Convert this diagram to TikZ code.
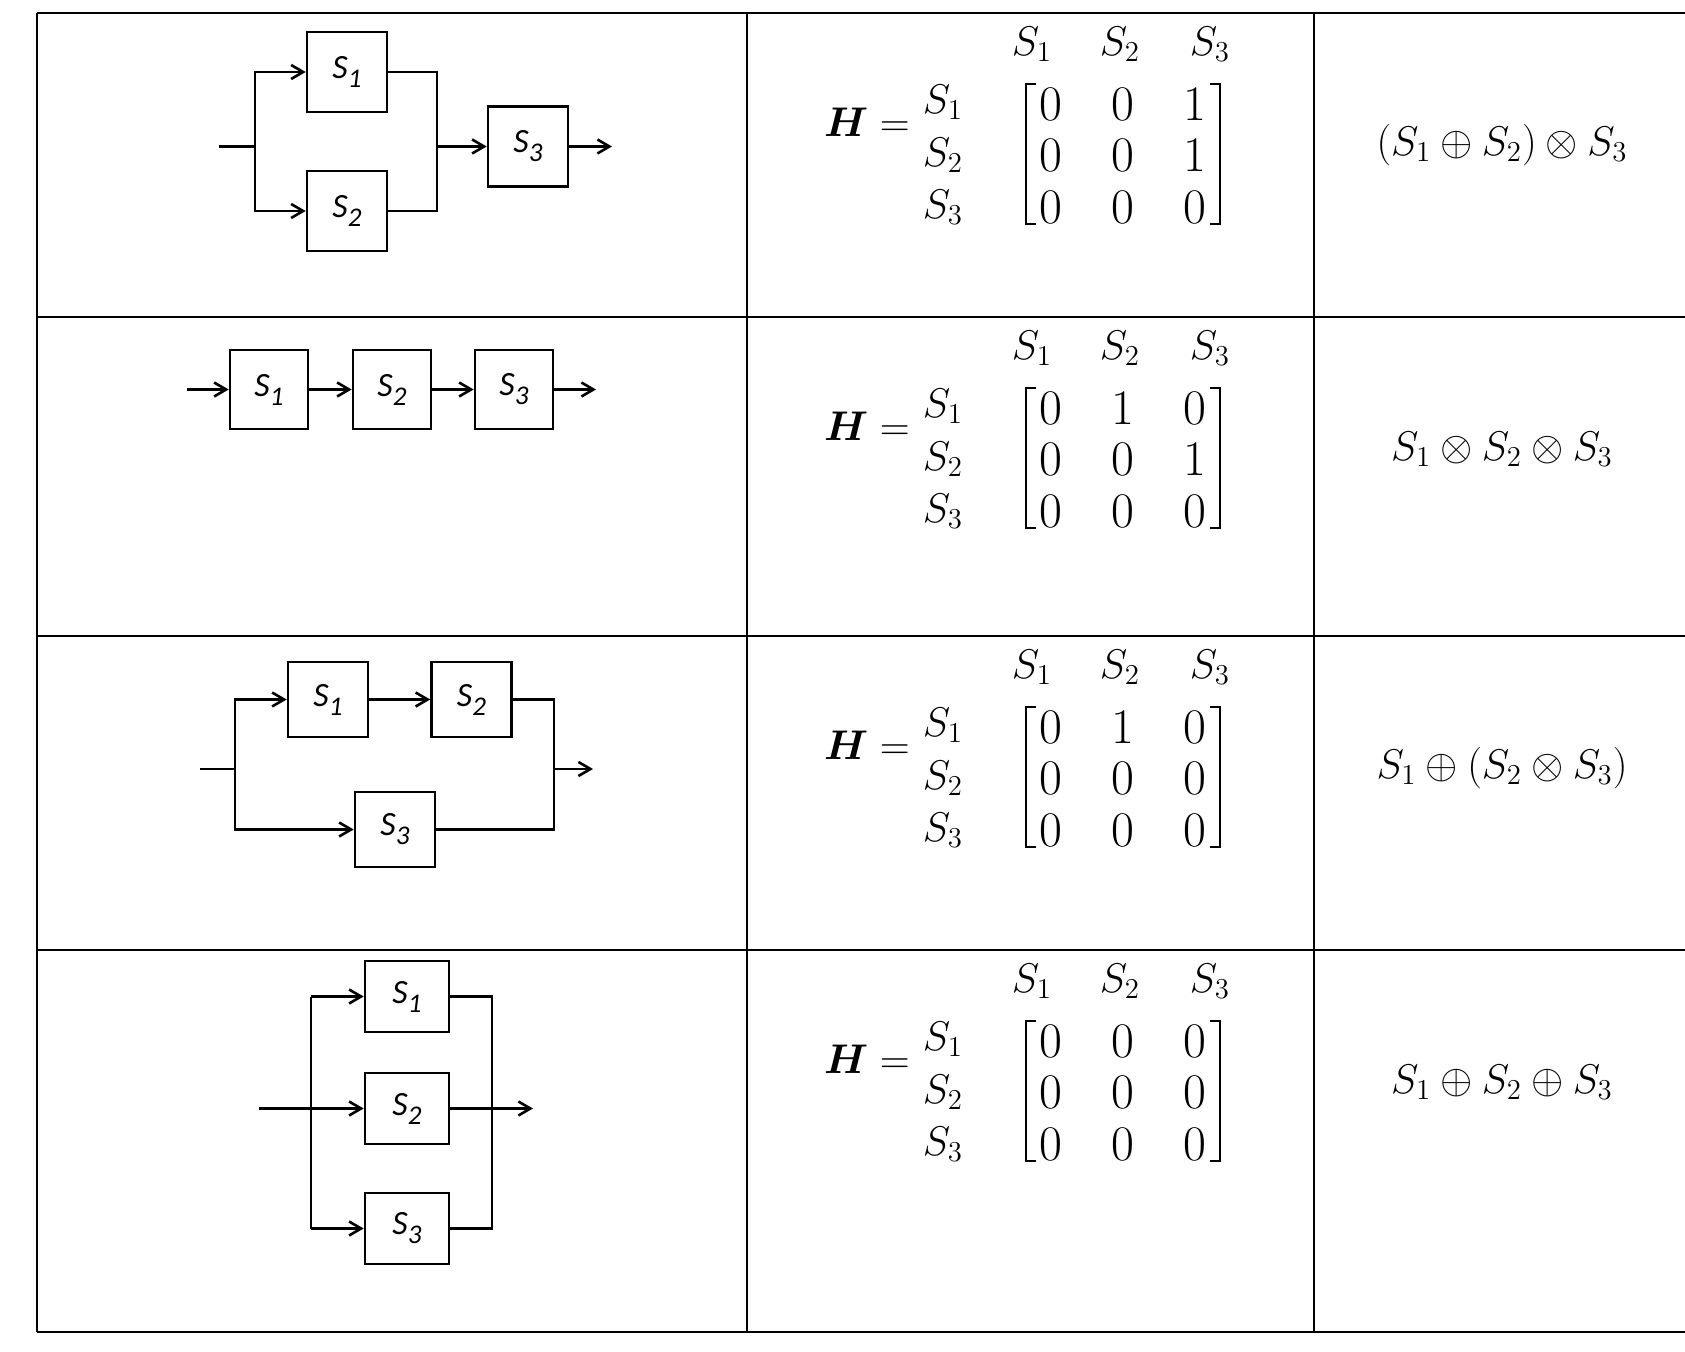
\documentclass[tikz,border=0pt]{standalone}
\usepackage{amsmath}
\usepackage{fontspec}
\usetikzlibrary{arrows.meta}
\newfontfamily\carlito{Carlito}
\newcommand\lbl[1]{S\raisebox{-4.5pt}{\fontsize{13.5}{13.5}\selectfont #1}}
\newcommand\hmat[4]{%
  \node[mtx, anchor=east] (H#1) at (910,#2+109) {$\boldsymbol{H} =$};
  \foreach \q/\xx in {1/1032,2/1120,3/1210}
    \node[mtx] (c#1\q) at (\xx,#2+31) {$S_\q$};
  \foreach \q/\yy in {1/89,2/142,3/194}
    \node[mtx] (l#1\q) at (943,#2+\yy) {$S_\q$};
  \foreach \rv [count=\i] in {#3} {
    \foreach \v [count=\j] in \rv {
      \node[mtx, font=\fontsize{23}{27}\selectfont] (e#1\i\j) at ({1051+72*(\j-1)},{#2+91+51.5*(\i-1)}) {$\v$};
    }
  }
  \draw[brk] (1036,#2+71) -- (1026,#2+71) -- (1026,#2+211) -- (1036,#2+211);
  \draw[brk] (1210,#2+71) -- (1220,#2+71) -- (1220,#2+211) -- (1210,#2+211);
  \node[mtx] (x#1) at (1502,#2+132) {$#4$};
}
\begin{document}
\begin{tikzpicture}[x=0.5pt,y=-0.5pt,
  grid/.style={line width=1pt},
  thingrid/.style={line width=0.75pt},
  blk/.style={draw, line width=1.3pt, inner sep=0pt,
    font=\carlito\itshape\fontsize{17}{17}\selectfont},
  wire/.style={line width=1.3pt},
  arr/.style={wire, -{Straight Barb[length=6pt,width=7pt,line width=1.3pt]}},
  mtx/.style={inner sep=0pt, font=\fontsize{21}{25}\selectfont},
  brk/.style={line width=1.2pt}
]
\useasboundingbox (0,0) rectangle (1685,1352);
\fill[white] (0,0) rectangle (1685,1352);

% table
\draw[grid] (37,13) -- (1685,13);
\draw[grid] (37,317) -- (1685,317);
\draw[grid] (37,636) -- (1685,636);
\draw[grid] (37,950) -- (1685,950);
\draw[grid] (37,1332) -- (1685,1332);
\draw[grid] (37,13) -- (37,1332);
\draw[thingrid] (747,13) -- (747,1332);
\draw[thingrid] (1314,13) -- (1314,1332);

% ---------- row 1
\node[blk, minimum width=40pt, minimum height=40pt] (a1) at (347,72) {\lbl{1}};
\node[blk, minimum width=40pt, minimum height=40pt] (a2) at (347,211) {\lbl{2}};
\node[blk, minimum width=40pt, minimum height=40pt] (a3) at (528,146.5) {\lbl{3}};
\coordinate (ain) at (219,146.5);
\coordinate (asp) at (255,146.5);
\coordinate (ajn) at (437,146.5);
\coordinate (aout) at (612,146.5);
\draw[wire] (ain) -- (asp);
\draw[arr] (asp) |- (a1.west);
\draw[arr] (asp) |- (a2.west);
\draw[wire] (a1.east) -| (ajn);
\draw[wire] (a2.east) -| (ajn);
\draw[arr] (ajn) -- (a3.west);
\draw[arr] (a3.east) -- (aout);

% ---------- row 2
\node[blk, minimum width=39pt, minimum height=39.5pt] (b1) at (269,389.5) {\lbl{1}};
\node[blk, minimum width=39pt, minimum height=39.5pt] (b2) at (392,389.5) {\lbl{2}};
\node[blk, minimum width=39pt, minimum height=39.5pt] (b3) at (514,389.5) {\lbl{3}};
\coordinate (bin) at (187,389.5);
\coordinate (bout) at (596,389.5);
\draw[arr] (bin) -- (b1.west);
\draw[arr] (b1.east) -- (b2.west);
\draw[arr] (b2.east) -- (b3.west);
\draw[arr] (b3.east) -- (bout);

% ---------- row 3
\node[blk, minimum width=40pt, minimum height=37.5pt] (c1) at (328,699.5) {\lbl{1}};
\node[blk, minimum width=40pt, minimum height=37.5pt] (c2) at (471.5,699.5) {\lbl{2}};
\node[blk, minimum width=40pt, minimum height=37.5pt] (c3) at (395,829.5) {\lbl{3}};
\coordinate (cin) at (200,769);
\coordinate (csp) at (235,769);
\coordinate (cjn) at (554,769);
\coordinate (cout) at (593,769);
\draw[wire] (cin) -- (csp);
\draw[arr] (csp) |- (c1.west);
\draw[arr] (csp) |- (c3.west);
\draw[arr] (c1.east) -- (c2.west);
\draw[wire] (c2.east) -| (cjn);
\draw[wire] (c3.east) -| (cjn);
\draw[arr] (cjn) -- (cout);

% ---------- row 4
\node[blk, minimum width=42pt, minimum height=35.5pt] (d1) at (407,996.5) {\lbl{1}};
\node[blk, minimum width=42pt, minimum height=35.5pt] (d2) at (407,1108.5) {\lbl{2}};
\node[blk, minimum width=42pt, minimum height=35.5pt] (d3) at (407,1228.5) {\lbl{3}};
\coordinate (din) at (259,1108.5);
\coordinate (dspt) at (311,996.5);
\coordinate (dspb) at (311,1228.5);
\coordinate (djt) at (492,996.5);
\coordinate (djb) at (492,1228.5);
\coordinate (dout) at (533,1108.5);
\draw[arr] (din) -- (d2.west);
\draw[wire] (dspt) -- (dspb);
\draw[arr] (dspt) -- (d1.west);
\draw[arr] (dspb) -- (d3.west);
\draw[wire] (d1.east) -- (djt) -- (djb) -- (d3.east);
\draw[arr] (d2.east) -- (dout);

% ---------- matrices and expressions
\hmat{1}{13}{{0,0,1},{0,0,1},{0,0,0}}{(S_1\oplus S_2)\otimes S_3}
\hmat{2}{317}{{0,1,0},{0,0,1},{0,0,0}}{S_1\otimes S_2\otimes S_3}
\hmat{3}{636}{{0,1,0},{0,0,0},{0,0,0}}{S_1\oplus (S_2\otimes S_3)}
\hmat{4}{950}{{0,0,0},{0,0,0},{0,0,0}}{S_1\oplus S_2\oplus S_3}
\end{tikzpicture}
\end{document}
